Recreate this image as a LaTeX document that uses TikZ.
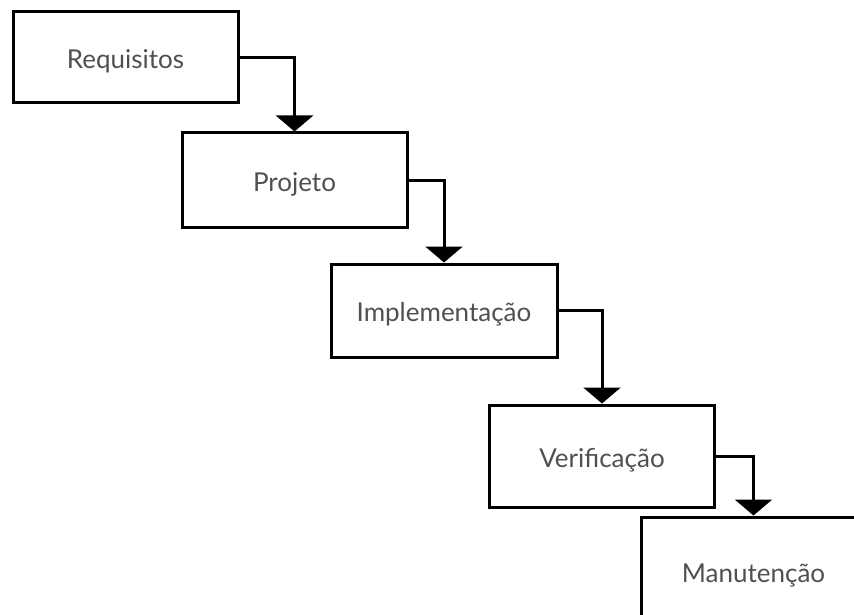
\documentclass[tikz,border=0pt]{standalone}
\usepackage{fontspec}
\setmainfont{Lato}
\usetikzlibrary{arrows.meta}
\definecolor{labelgray}{HTML}{505050}
\tikzset{
  phase/.style={draw=black, line width=3pt, fill=white, inner sep=0pt,
    text=labelgray, font=\fontsize{26}{30}\selectfont,
    text height=27pt, text depth=5pt},
  flow/.style={draw=black, line width=3pt,
    -{Triangle[width=37pt,length=16pt]}},
}
\begin{document}
\begin{tikzpicture}[x=1pt,y=-1pt]
  \useasboundingbox (0,0) rectangle (854,615);
  \clip (0,0) rectangle (854,615);
  \node[phase, minimum width=225pt, minimum height=91pt]  (req)  at (125.5,57.5) {Requisitos};
  \node[phase, minimum width=225pt, minimum height=94pt]  (proj) at (294.5,180)  {Projeto};
  \node[phase, minimum width=226pt, minimum height=93pt]  (impl) at (444,310.5)  {Implementação};
  \node[phase, minimum width=225pt, minimum height=102pt] (ver)  at (602,456)    {Verificação};
  \node[phase, minimum width=225pt, minimum height=108pt] (man)  at (753.5,571)  {Manutenção};
  \draw[flow] (req.east)  -| (proj.north);
  \draw[flow] (proj.east) -| (impl.north);
  \draw[flow] (impl.east) -| (ver.north);
  \draw[flow] (ver.east)  -| (man.north);
\end{tikzpicture}
\end{document}
